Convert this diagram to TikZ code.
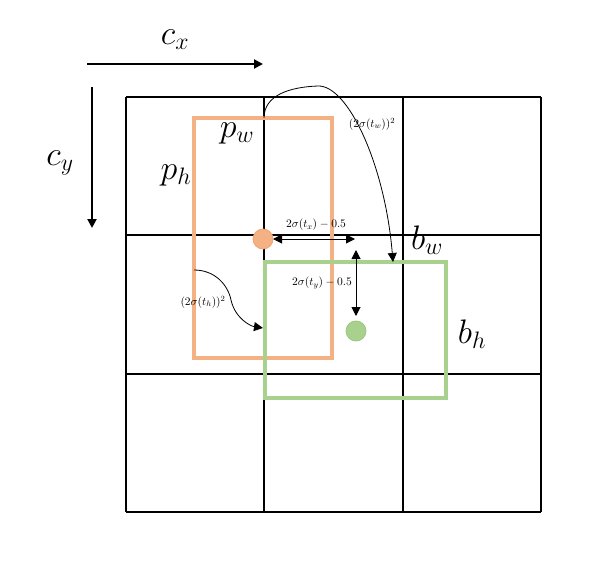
\RequirePackage{fix-cm}
\documentclass[tikz,border=0pt]{standalone}
\usepackage{amsmath}
\usetikzlibrary{arrows.meta}
\definecolor{org}{HTML}{F4B183}
\definecolor{orgd}{HTML}{ED7D31}
\definecolor{grn}{HTML}{A9D18E}
\definecolor{grnd}{HTML}{70AD47}
\begin{document}
\begin{tikzpicture}[x=1pt,y=-1pt,
  gridline/.style={line width=1.6pt},
  arr/.style={-{Triangle[length=9pt,width=9pt]},line width=1pt},
  darr/.style={{Triangle[length=9pt,width=9pt]}-{Triangle[length=9pt,width=9pt]},line width=1pt},
  curv/.style={-{Triangle[length=9pt,width=9pt]},line width=0.8pt},
  big/.style={font=\fontsize{34}{40}\selectfont},
  small/.style={font=\fontsize{11.5}{13}\selectfont},
  orect/.style={draw=org,line width=3.2pt},
  grect/.style={draw=grn,line width=3.2pt}]
\useasboundingbox (0,0) rectangle (604,585);
% grid
\foreach \v in {126,264,403,541}{\draw[gridline] (\v,97) -- (\v,512);}
\foreach \v in {97,235,374,512}{\draw[gridline] (126,\v) -- (541,\v);}
% axes
\coordinate (cxs) at (87,64); \coordinate (cxe) at (263,64);
\coordinate (cys) at (92,87); \coordinate (cye) at (92,228);
\draw[arr,line width=2pt] (cxs) -- (cxe);
\draw[arr,line width=2pt] (cys) -- (cye);
\node[big] (cx) at (175,40) {$c_x$};
\node[big] (cy) at (60,163) {$c_y$};
% rectangles
\draw[orect] (194,118) rectangle (332,358);
\draw[grect] (265,262) rectangle (446,398);
% circles
\node[circle,draw=orgd!70,fill=org,minimum size=20pt,inner sep=0pt,line width=0.8pt] (oc) at (263,239) {};
\node[circle,draw=grnd!70,fill=grn,minimum size=20pt,inner sep=0pt,line width=0.8pt] (gc) at (356,331) {};
% labels
\node[big] (pw) at (237,133) {$p_w$};
\node[big] (ph) at (176,175) {$p_h$};
\node[big] (bw) at (427,240) {$b_w$};
\node[big] (bh) at (472,334) {$b_h$};
% offsets
\coordinate (tx1) at (273,239); \coordinate (tx2) at (355,239);
\draw[darr] (tx1) -- (tx2);
\node[small] (ltx) at (316,225) {$2\sigma(t_x)-0.5$};
\coordinate (ty1) at (356,250); \coordinate (ty2) at (356,316);
\draw[darr] (ty1) -- (ty2);
\node[small] (lty) at (322,283) {$2\sigma(t_y)-0.5$};
% width curve
\coordinate (w1) at (264,118); \coordinate (w2) at (393,262);
\draw[curv] (w1) .. controls (264,95) and (290,87) .. (318,86) .. controls (348,85) and (385,165) .. (w2);
\node[small] (ltw) at (372,124) {$(2\sigma(t_w))^2$};
% height curve
\coordinate (h1) at (194,270); \coordinate (h2) at (263,328);
\draw[curv] (h1) .. controls (215,270) and (228,285) .. (231,300) .. controls (235,318) and (250,326) .. (h2);
\node[small] (lth) at (203,302) {$(2\sigma(t_h))^2$};
\end{tikzpicture}
\end{document}
